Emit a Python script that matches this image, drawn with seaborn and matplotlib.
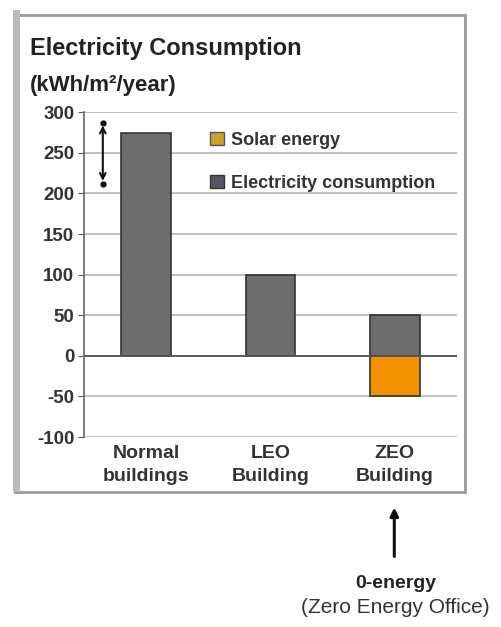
import numpy as np
import pandas as pd
import matplotlib
matplotlib.use("Agg")
import matplotlib.pyplot as plt
import seaborn as sns
from matplotlib.patches import Patch, Rectangle, FancyArrowPatch

categories = ["Normal\nbuildings", "LEO\nBuilding", "ZEO\nBuilding"]
electricity = [275, 100, 50]
solar = [0, 0, -50]
yticks = [-100, -50, 0, 50, 100, 150, 200, 250, 300]

sns.set_style("white")
plt.rcParams["font.family"] = ["Liberation Sans", "DejaVu Sans"]

gray = "#6d6d6d"
orange = "#f39200"

fig = plt.figure(figsize=(5.01, 6.27), dpi=100)
ax = fig.add_axes([0.168, 0.303, 0.744, 0.518])

df = pd.DataFrame({"cat": categories, "elec": electricity, "solar": solar})
sns.barplot(data=df, x="cat", y="elec", color=gray, width=0.4,
            edgecolor="#333333", linewidth=1.2, saturation=1, ax=ax)
sns.barplot(data=df, x="cat", y="solar", color=orange, width=0.4,
            edgecolor="#333333", linewidth=1.2, saturation=1, ax=ax)
# hide the zero-height solar bars
for p in ax.patches:
    if p.get_height() == 0:
        p.set_visible(False)

ax.set_ylim(-100, 300)
ax.set_xlim(-0.5, 2.5)
ax.set_yticks(yticks)
ax.set_yticklabels([str(v) for v in yticks], fontsize=13.5, fontweight="bold", color="#333333")
ax.set_xticks(range(len(categories)))
ax.set_xticklabels(categories, fontsize=14, fontweight="bold", color="#333333", linespacing=1.45)
ax.tick_params(axis="x", length=0, pad=6)
ax.tick_params(axis="y", length=4, left=True, color="#555555", pad=3)
ax.set_xlabel("")
ax.set_ylabel("")
ax.yaxis.grid(True, color="#bbbbbb", linewidth=1.3)
ax.set_axisbelow(True)
ax.axhline(0, color="#555555", linewidth=1.3)
for s in ax.spines.values():
    s.set_color("#666666")
    s.set_linewidth(1.2)
ax.spines["top"].set_visible(False)
ax.spines["bottom"].set_visible(False)
ax.spines["right"].set_visible(False)

# double-headed marker near the first bar
ax.annotate("", xy=(-0.35, 287), xytext=(-0.35, 212),
            arrowprops=dict(arrowstyle="<->", color="#111111", lw=1.5))
ax.plot([-0.35, -0.35], [287, 212], "o", color="#111111", ms=3.5)

handles = [Patch(facecolor="#c8a030", edgecolor="#555555", label="Solar energy"),
           Patch(facecolor="#555566", edgecolor="#333333", label="Electricity consumption")]
leg = ax.legend(handles=handles, loc="upper left", bbox_to_anchor=(0.295, 0.99),
                frameon=False, prop={"size": 13, "weight": "bold"},
                handlelength=0.75, handleheight=0.75,
                handletextpad=0.4, labelspacing=1.45, labelcolor="#333333")

fig.text(0.06, 0.912, "Electricity Consumption", fontsize=17, fontweight="bold", color="#222222")
fig.text(0.06, 0.855, "(kWh/m\u00b2/year)", fontsize=16, fontweight="bold", color="#222222")

# outer frame
fig.patches.append(Rectangle((0.03, 0.216), 0.898, 0.76, transform=fig.transFigure,
                             fill=False, edgecolor="#999999", linewidth=2))
fig.patches.append(Rectangle((0.026, 0.216), 0.014, 0.768, transform=fig.transFigure,
                             facecolor="#bbbbbb", edgecolor="none"))

fig.patches.append(FancyArrowPatch(
    (0.787, 0.108), (0.787, 0.195), transform=fig.transFigure,
    arrowstyle="-|>", mutation_scale=12, color="#111111", lw=2.2))
fig.text(0.79, 0.062, "0-energy", fontsize=14, fontweight="bold", ha="center", color="#222222")
fig.text(0.79, 0.022, "(Zero Energy Office)", fontsize=15, ha="center", color="#333333")

fig.savefig("out.png", dpi=100)
